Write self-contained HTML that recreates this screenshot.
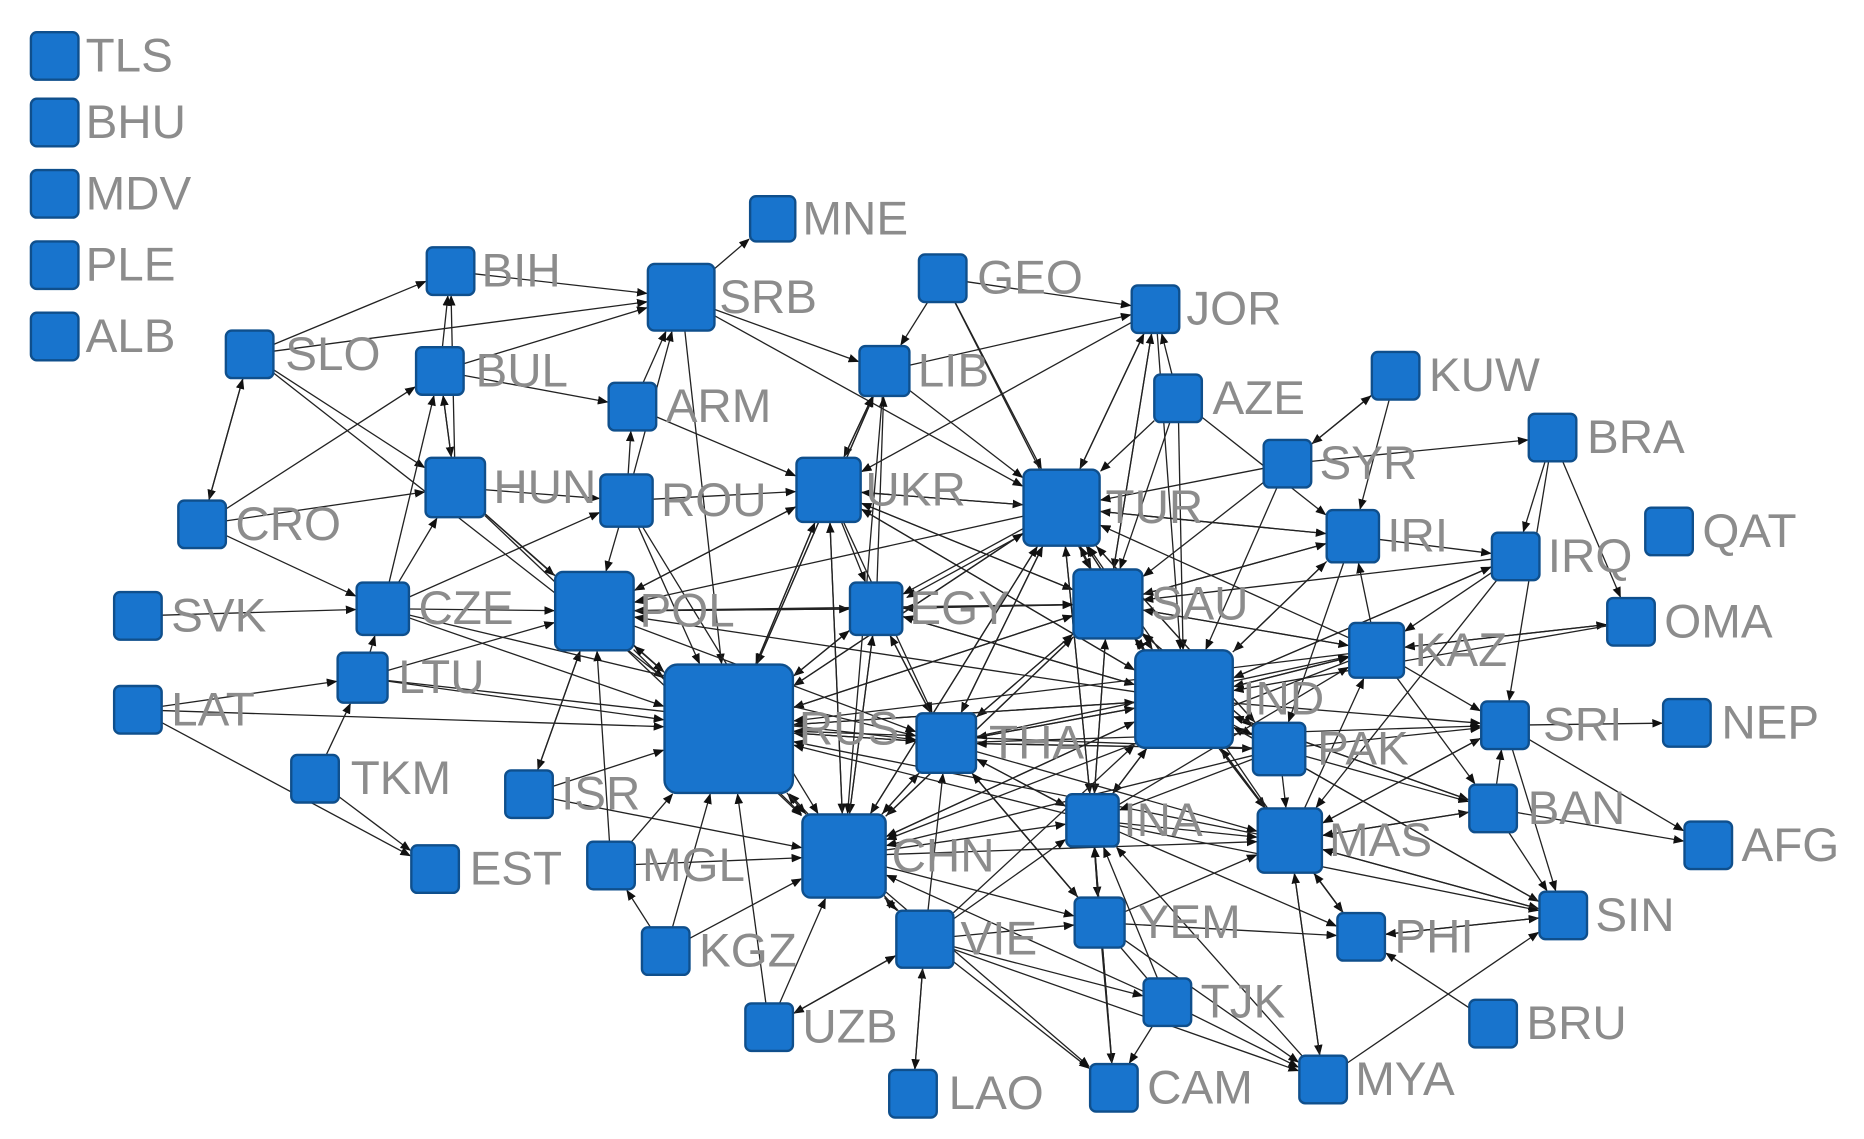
<!DOCTYPE html>
<html><head><meta charset="utf-8"><style>
html,body{margin:0;padding:0;background:#fff;}
svg{display:block}
text{font-family:"Liberation Sans",Arial,sans-serif;fill:#8c8c8c;font-size:40px;dominant-baseline:central}
</style></head><body>
<svg id="s" width="1864" height="1139" viewBox="0 0 1568 958" xmlns="http://www.w3.org/2000/svg">
<defs><marker id="a" viewBox="0 0 10 10" refX="9" refY="5" markerWidth="9" markerHeight="9" markerUnits="userSpaceOnUse" orient="auto"><path d="M0,1 L10,5 L0,9 z" fill="#111"/></marker></defs>
<g id="e" stroke="#222" stroke-width="1.1"></g>
<g id="n"></g>
</svg>
<script>
var N={
TLS:[46,47,40,72],BHU:[46,103,40,72],MDV:[46,163,40,72],PLE:[46,223,40,72],ALB:[46,283,40,72],
MNE:[650,184,38,675],BIH:[379,228,40,405],SRB:[573,250,56,605],GEO:[793,234,40,822],JOR:[972,260,40,998],
SLO:[210,298,40,240],BUL:[370,312,40,400],ARM:[532,342,40,560],LIB:[744,312,42,772],AZE:[991,335,40,1020],
KUW:[1174,316,40,1202],BRA:[1306,368,40,1335],SYR:[1083,390,40,1110],HUN:[383,410,50,415],ROU:[527,421,44,556],
UKR:[697,412,54,728],TUR:[893,427,64,930],CRO:[170,441,40,198],IRI:[1138,451,44,1167],IRQ:[1275,468,40,1302],
QAT:[1404,447,40,1432],SVK:[116,518,40,144],CZE:[322,512,44,352],POL:[500,514,66,538],EGY:[737,512,44,765],
SAU:[932,508,58,968],OMA:[1372,523,40,1400],KAZ:[1158,547,46,1190],LTU:[305,570,42,335],LAT:[116,597,40,144],
RUS:[613,613,108,672],IND:[996,588,82,1045],THA:[796,625,50,832],PAK:[1076,630,44,1108],SRI:[1266,610,40,1298],
NEP:[1419,608,40,1448],TKM:[265,655,40,295],ISR:[445,668,40,472],INA:[919,690,44,945],MAS:[1085,707,54,1118],
BAN:[1256,680,40,1285],AFG:[1437,711,40,1465],MGL:[514,728,40,540],CHN:[710,720,70,750],EST:[366,731,40,395],
SIN:[1315,770,40,1342],VIE:[778,790,48,808],YEM:[925,776,42,957],PHI:[1145,788,40,1173],KGZ:[560,800,40,588],
TJK:[982,843,40,1010],BRU:[1256,861,40,1284],UZB:[647,864,40,675],MYA:[1113,908,40,1140],CAM:[937,915,40,965],
LAO:[768,920,40,798]};
var E="SLO-BIH SLO-SRB SLO-CRO CRO-SLO SLO-HUN SLO-RUS BIH-SRB BUL-BIH BUL-SRB BUL-HUN HUN-BUL BUL-ARM HUN-BIH CRO-HUN CRO-BUL CRO-CZE CZE-HUN CZE-BUL SVK-CZE LAT-LTU LAT-RUS LAT-EST LTU-RUS LTU-POL TKM-LTU TKM-EST CZE-POL CZE-RUS HUN-POL HUN-RUS ROU-ARM ROU-SRB ROU-POL ROU-RUS ARM-SRB SRB-LIB SRB-TUR SRB-RUS SRB-MNE GEO-LIB LIB-UKR UKR-LIB LIB-JOR LIB-TUR UKR-RUS RUS-UKR UKR-CHN UKR-TUR UKR-EGY UKR-SAU UKR-THA UKR-IND UKR-POL ARM-UKR ROU-UKR GEO-TUR GEO-JOR JOR-TUR JOR-SAU JOR-UKR AZE-JOR AZE-TUR AZE-IRI KUW-SYR SYR-KUW SYR-TUR SYR-BRA BRA-IRQ BRA-OMA IRI-TUR IRI-SAU IRI-IND IRI-IRQ KAZ-IRI IRQ-KAZ IRQ-IND IRQ-SAU OMA-KAZ KAZ-OMA OMA-IND KAZ-SAU KAZ-TUR KAZ-IND KAZ-RUS KAZ-SRI KAZ-CHN TUR-RUS TUR-CHN TUR-IND TUR-SAU TUR-THA TUR-EGY TUR-POL TUR-INA TUR-PAK SAU-RUS SAU-CHN SAU-IND SAU-THA SAU-EGY SAU-PAK SAU-INA SAU-MAS EGY-RUS EGY-CHN EGY-POL EGY-IND EGY-THA POL-RUS POL-CHN POL-THA POL-ISR ISR-RUS ISR-POL MGL-RUS MGL-CHN KGZ-RUS KGZ-MGL UZB-CHN UZB-RUS VIE-UZB LAO-VIE VIE-LAO VIE-CHN VIE-RUS VIE-THA VIE-IND VIE-CAM VIE-MYA VIE-INA VIE-TJK CHN-RUS RUS-CHN CHN-THA CHN-IND CHN-INA CHN-MAS CHN-YEM CHN-CAM THA-RUS THA-IND THA-INA THA-MAS THA-PAK THA-YEM THA-SRI IND-RUS IND-PAK IND-MAS IND-SRI IND-BAN IND-INA IND-SIN IND-PHI PAK-SRI PAK-BAN PAK-MAS PAK-RUS PAK-CHN INA-RUS INA-MAS INA-YEM INA-CAM INA-PHI INA-SIN MAS-SIN MAS-PHI MAS-MYA MAS-BAN MAS-SRI MAS-RUS SRI-NEP BAN-SRI BAN-AFG BAN-SIN SRI-AFG PHI-SIN YEM-PHI YEM-CAM YEM-MYA TJK-CAM TJK-MYA TJK-CHN MYA-SIN BRU-PHI YEM-MAS SIN-IND LIB-RUS LIB-CHN GEO-SAU JOR-IND AZE-SAU AZE-IND ROU-CHN HUN-CHN CZE-THA LTU-THA EGY-SAU RUS-IND IND-THA THA-CHN SAU-TUR IND-SAU RUS-POL CHN-VIE SRI-SIN KAZ-BAN IRI-PAK IRQ-MAS SYR-IND SYR-SAU KUW-IRI BRA-SRI RUS-THA INA-THA MAS-IND TUR-EGY RUS-TUR IND-TUR CHN-TUR CHN-SAU RUS-SAU THA-SAU THA-TUR INA-TUR INA-SAU INA-IND MAS-SAU MAS-TUR PAK-SAU PAK-TUR PAK-THA PAK-INA IND-CHN IND-EGY IND-POL RUS-EGY CHN-EGY THA-EGY SAU-UKR TUR-UKR IND-UKR CHN-UKR RUS-LIB EGY-LIB SAU-JOR TUR-JOR IND-IRI SAU-IRI TUR-IRI IND-KAZ SAU-KAZ IND-IRQ THA-KAZ INA-KAZ MAS-KAZ PHI-MAS YEM-INA CAM-INA MYA-MAS VIE-YEM YEM-THA TJK-INA TJK-THA MYA-INA SIN-MAS SIN-PHI SRI-MAS BAN-MAS BAN-IND POL-UKR POL-EGY POL-SAU CZE-ROU HUN-ROU LTU-CZE ISR-CHN MGL-POL UZB-VIE KGZ-CHN".split(" ");
var ns="http://www.w3.org/2000/svg",s=document.getElementById("e"),g=document.getElementById("n");
function clip(x,y,dx,dy,h){var t=Math.min(Math.abs(h/(dx||1e-9)),Math.abs(h/(dy||1e-9)));return [x+dx*t,y+dy*t];}
var seen={};
E.forEach(function(p,i){var q=p.split("-"),a=N[q[0]],b=N[q[1]];if(!a||!b)return;
var off=seen[p]?3:0;seen[p]=1;
var dx=b[0]-a[0],dy=b[1]-a[1];var st=clip(a[0],a[1],dx,dy,a[2]/2),en=clip(b[0],b[1],-dx,-dy,b[2]/2+1);
var l=document.createElementNS(ns,"line");l.setAttribute("x1",st[0]+off);l.setAttribute("y1",st[1]+off);l.setAttribute("x2",en[0]+off);l.setAttribute("y2",en[1]+off);l.setAttribute("marker-end","url(#a)");s.appendChild(l);});
for(var k in N){var v=N[k],r=document.createElementNS(ns,"rect");r.setAttribute("x",v[0]-v[2]/2);r.setAttribute("y",v[1]-v[2]/2);r.setAttribute("width",v[2]);r.setAttribute("height",v[2]);r.setAttribute("rx",Math.max(5,v[2]/10));r.setAttribute("fill","#1874cd");r.setAttribute("stroke","#0f4f8c");r.setAttribute("stroke-width","2");g.appendChild(r);
var t=document.createElementNS(ns,"text");t.setAttribute("x",v[3]);t.setAttribute("y",v[1]);t.textContent=k;g.appendChild(t);}
</script>
</body></html>
